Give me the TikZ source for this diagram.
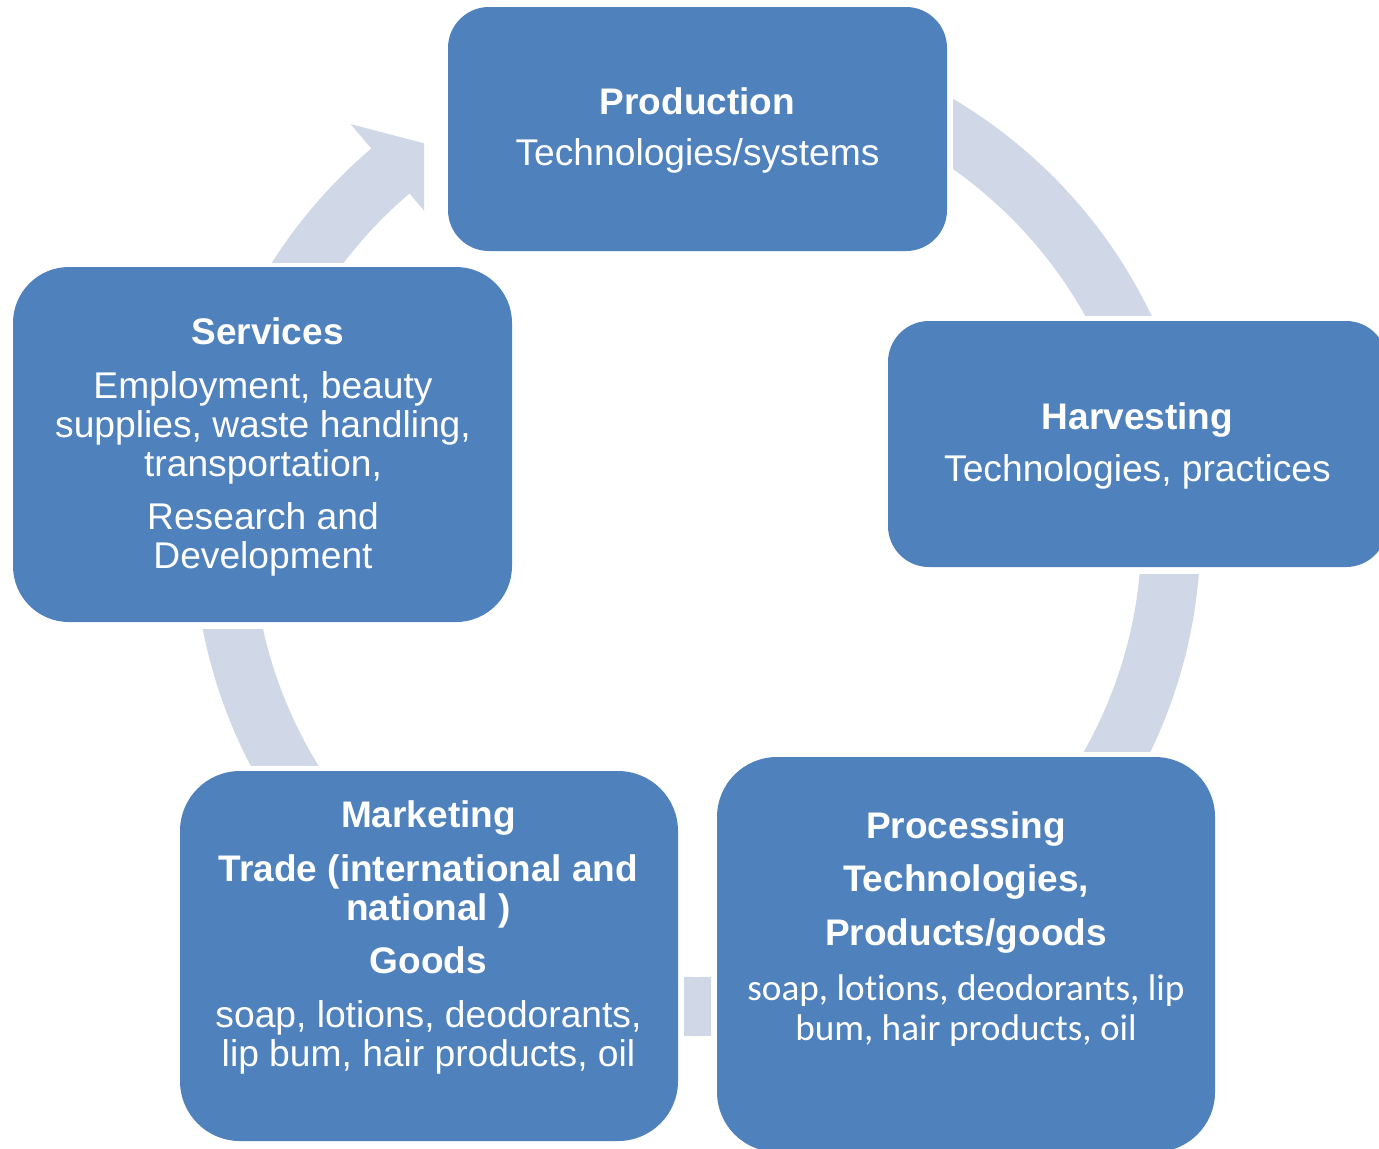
\documentclass[tikz,border=0pt]{standalone}
\usepackage{fontspec}
\setmainfont{Liberation Sans}
\newfontfamily\calibfont[Ligatures={NoCommon}]{Carlito}
\usetikzlibrary{calc}
\definecolor{boxblue}{HTML}{4F81BD}
\definecolor{arrowgray}{HTML}{D0D8E8}
\begin{document}
\begin{tikzpicture}[x=0.5pt,y=-0.5pt,
  box/.style={fill=boxblue, draw=none, inner sep=0pt},
  lbl/.style={text=white, anchor=base, inner sep=0pt, font=\fontsize{18.6pt}{19pt}\selectfont},
  ttl/.style={lbl, font=\fontsize{18.5pt}{19pt}\selectfont\bfseries},
  cal/.style={lbl, font=\fontsize{18.6pt}{19pt}\selectfont\calibfont},
  ring/.style={fill=arrowgray, even odd rule}]
\useasboundingbox (0,0) rectangle (1379,1148);
\fill[white] (0,0) rectangle (1379,1148);
\clip (0,0) rectangle (1379,1148);
\coordinate (C) at (697,532.5);

% arrow Services -> Production (with head)
\begin{scope}
  \clip (0,0) rectangle (424,262);
  \fill[arrowgray] ($(C)+(200:503.5)$) arc[start angle=200, end angle=229.7, radius=503.5]
    -- ($(C)+(229.7:535.5)$) -- ($(C)+(235:475)$) -- ($(C)+(229.7:413)$)
    -- ($(C)+(229.7:444.5)$) arc[start angle=229.7, end angle=200, radius=444.5] -- cycle;
\end{scope}
% Production -> Harvesting
\begin{scope}
  \clip (953,0) rectangle (1379,315);
  \fill[ring] (C) circle[radius=503.5] (C) circle[radius=444.5];
\end{scope}
% Harvesting -> Processing
\begin{scope}
  \clip (697,574) rectangle (1379,751);
  \fill[ring] (C) circle[radius=503.5] (C) circle[radius=444.5];
\end{scope}
% Processing -> Marketing
\begin{scope}
  \clip (684,900) rectangle (711,1100);
  \fill[ring] (C) circle[radius=503.5] (C) circle[radius=444.5];
\end{scope}
% Marketing -> Services
\begin{scope}
  \clip (0,629) rectangle (697,765);
  \fill[ring] (C) circle[radius=503.5] (C) circle[radius=444.5];
\end{scope}

% boxes
\node[box, minimum width=249.5pt, minimum height=122pt, rounded corners=20.5pt] (prod) at (697.5,129) {};
\node[box, minimum width=249.5pt, minimum height=123pt, rounded corners=20.5pt] (harv) at (1137.5,444) {};
\node[box, minimum width=249pt, minimum height=197.5pt, rounded corners=30pt] (proc) at (966,954.5) {};
\node[box, minimum width=249pt, minimum height=185pt, rounded corners=30pt] (mark) at (429,956) {};
\node[box, minimum width=249.5pt, minimum height=177.5pt, rounded corners=28pt] (serv) at (262.5,444.5) {};

% Production text
\node[ttl] (prodT) at (697.5,114) {Production};
\node[lbl] (prodA) at (697.5,165) {Technologies/systems};
% Harvesting text
\node[ttl] (harvT) at (1137.5,429) {Harvesting};
\node[lbl] (harvA) at (1137.5,481) {Technologies, practices};
% Processing text
\node[ttl] (procT) at (966,838) {Processing};
\node[ttl] (procA) at (966,891) {Technologies,};
\node[ttl] (procB) at (966,945) {Products/goods};
\node[cal] (procC) at (966,1000) {soap, lotions, deodorants, lip};
\node[cal] (procD) at (966,1040) {bum, hair products, oil};
% Marketing text
\node[ttl] (markT) at (428.5,827) {Marketing};
\node[ttl] (markA) at (428.5,881) {Trade (international and};
\node[ttl] (markB) at (428.5,920) {national )};
\node[ttl] (markC) at (428.5,973) {Goods};
\node[lbl] (markD) at (428.5,1027) {soap, lotions, deodorants,};
\node[lbl] (markE) at (428.5,1066) {lip bum, hair products, oil};
% Services text
\node[ttl] (servT) at (267.5,344) {Services};
\node[lbl] (servA) at (263,398) {Employment, beauty};
\node[lbl] (servB) at (263,437) {supplies, waste handling,};
\node[lbl] (servC) at (263,476) {transportation,};
\node[lbl] (servD) at (263,529) {Research and};
\node[lbl] (servE) at (263,568) {Development};
\end{tikzpicture}
\end{document}
